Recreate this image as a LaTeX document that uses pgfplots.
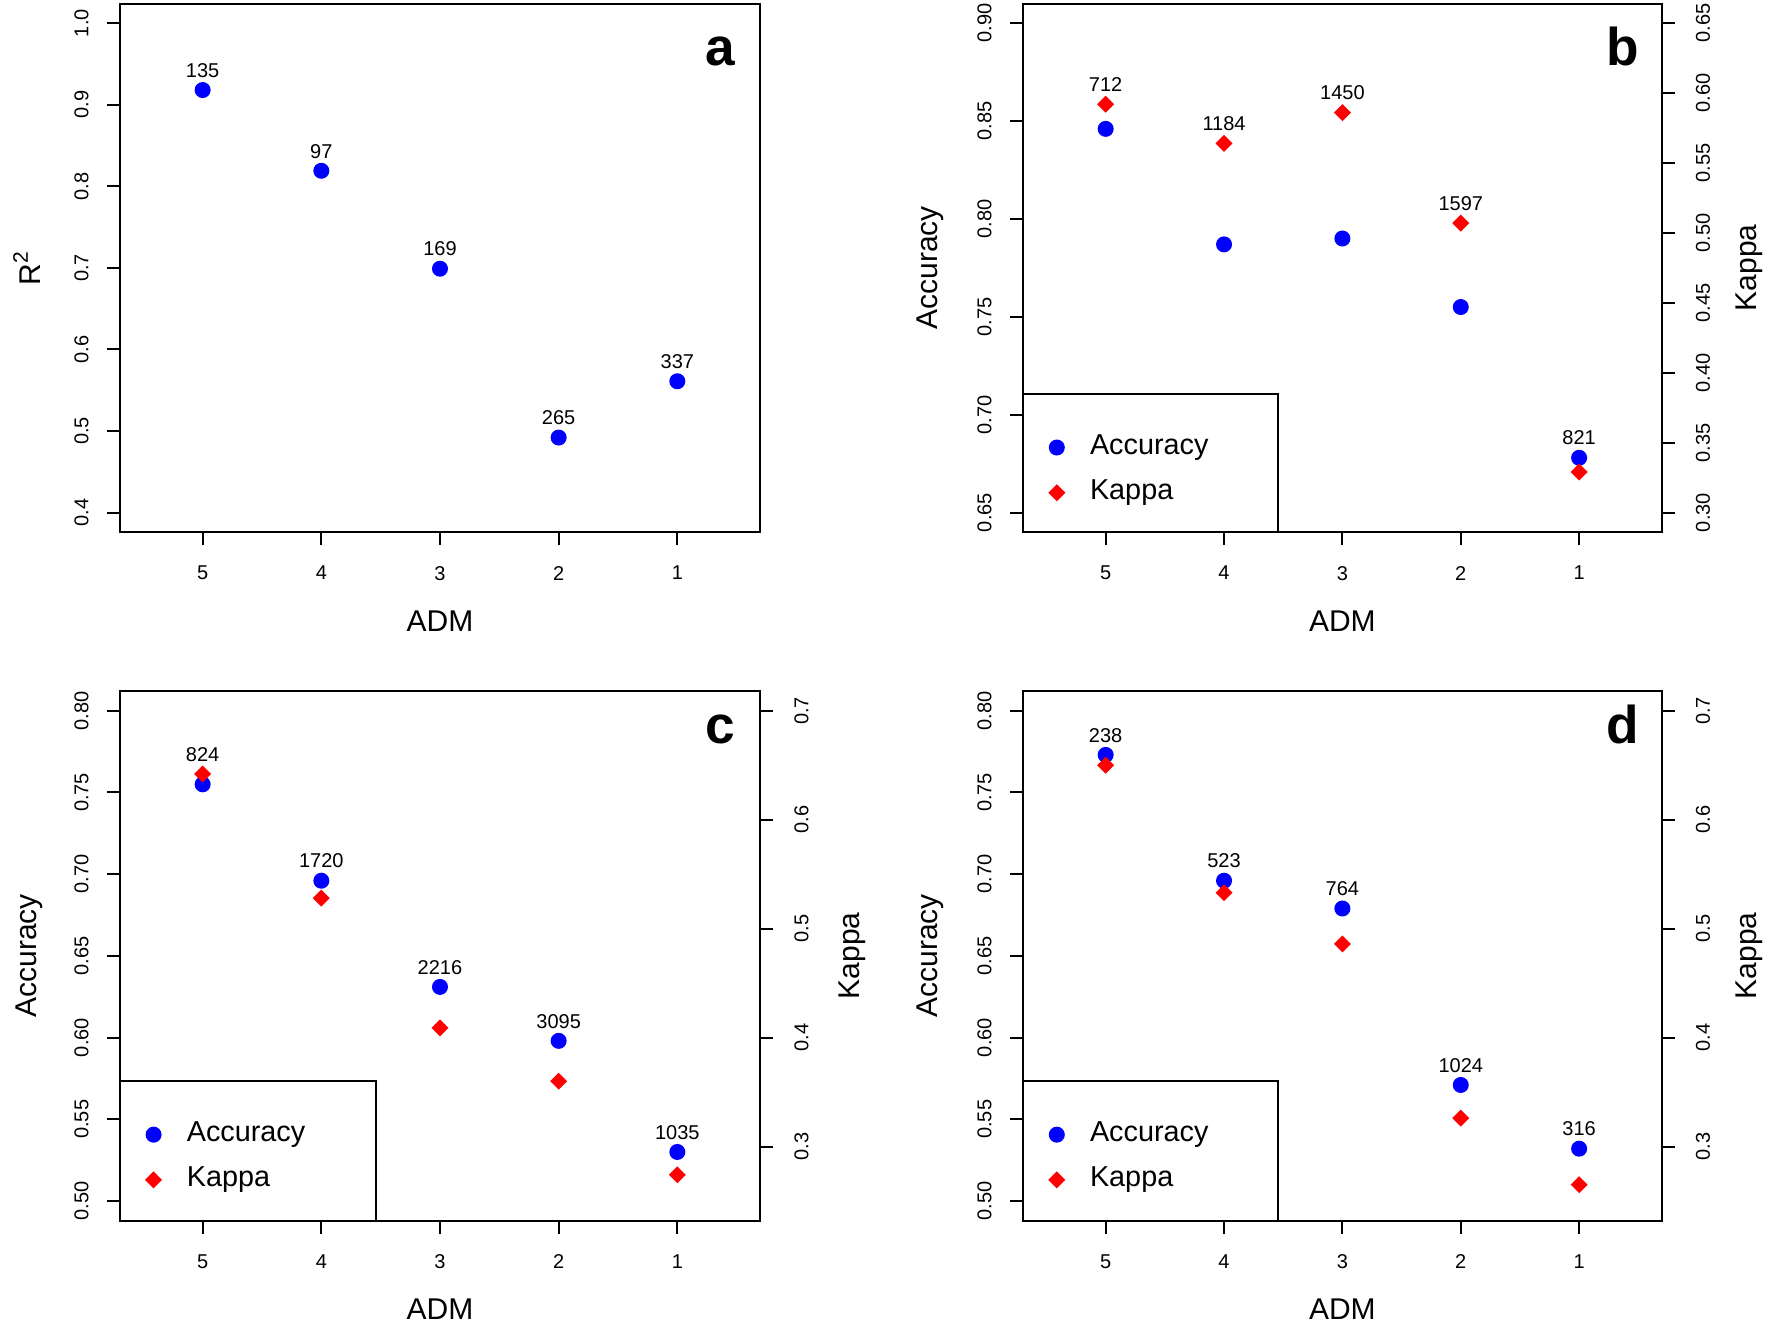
\documentclass[border=0pt]{standalone}
\usepackage{fontspec}
\setmainfont{Liberation Sans}
\usepackage{pgfplots}
\pgfplotsset{compat=1.18}
\newcommand\tickfont{\fontsize{5}{6}\selectfont}
\newcommand\labfont{\fontsize{7.5}{9}\selectfont}
\newcommand\legfont{\fontsize{7.2}{8.5}\selectfont}
\newcommand\panelfont{\bfseries\fontsize{13.3}{14}\selectfont}

\pgfplotsset{
  base/.style={scale only axis, xmin=0.3, xmax=5.7, x dir=reverse,
    tick align=outside, major tick length=3.25pt,
    every tick/.style={black, line width=0.5pt},
    axis line style={line width=0.5pt},
    /pgf/number format/assume math mode=true,
    tick label style={font=\tickfont}, label style={font=\labfont}},
  leftax/.style={base, xtick={1,2,3,4,5}, xtick pos=bottom, ytick pos=left,
    xlabel=ADM, xticklabel style={yshift=-1.7pt},
    yticklabel style={xshift=-1pt, rotate=90, anchor=south, /pgf/number format/.cd, fixed, fixed zerofill, precision=#1},
    xlabel style={at={(axis description cs:0.5,-0.168)}, anchor=center},
    ylabel style={at={(axis description cs:-0.144,0.5)}, anchor=center}},
  rightax/.style={base, axis x line=none, axis y line*=right, ytick pos=right,
    yticklabel style={xshift=1.7pt, rotate=90, anchor=north, /pgf/number format/.cd, fixed, fixed zerofill, precision=#1},
    ylabel=Kappa,
    ylabel style={at={(axis description cs:1.137,0.5)}, anchor=center},
    legend style={at={(rel axis cs:0,0.261)}, anchor=north west, draw=none, fill=none,
      font=\legfont, inner xsep=0pt, inner ysep=7.9pt, row sep=0.85pt,
      /tikz/every odd column/.append style={column sep=-2.4pt}},
    legend cell align=left},
  legimg/.style={legend image code/.code={\path[draw=none, fill=none] (0pt,-1pt) rectangle (17pt,1pt);
    \draw[##1] plot coordinates {(8.3pt,0pt)};}},
  accmark/.style={only marks, mark=*, mark size=1.8pt, blue, legimg},
  kapmark/.style={only marks, mark=square*, mark size=1.3pt, mark options={rotate=45}, red, legimg},
  numlab/.style={draw=none, nodes near coords, point meta=explicit symbolic,
    nodes near coords style={font=\tickfont, anchor=base, yshift=3.2pt, inner sep=0pt, black}},
}

\begin{document}
\begin{tikzpicture}
\useasboundingbox (0,0) rectangle (443pt,330.75pt);

% ---- a ----
\begin{axis}[leftax=1, at={(29.9pt,197.7pt)}, anchor=south west,
  width=160.2pt, height=132.15pt, ymin=0.376, ymax=1.024,
  ytick={0.4,0.5,0.6,0.7,0.8,0.9,1.0}, ylabel={R\textsuperscript{2}},
  ylabel style={at={(axis description cs:-0.145,0.5)}}]
\addplot[accmark] coordinates {(5,0.918) (4,0.819) (3,0.699) (2,0.492) (1,0.561)};
\addplot[numlab] coordinates {(5,0.918)[135] (4,0.819)[97] (3,0.699)[169] (2,0.492)[265] (1,0.561)[337]};
\node[font=\panelfont, anchor=base] at (rel axis cs:0.938,0.883) {a};
\end{axis}

% ---- b ----
\begin{axis}[leftax=2, at={(255.7pt,197.7pt)}, anchor=south west,
  width=159.8pt, height=132.15pt, ymin=0.64, ymax=0.91,
  ytick={0.65,0.70,0.75,0.80,0.85,0.90}, ylabel={Accuracy}]
\addplot[accmark] coordinates {(5,0.846) (4,0.787) (3,0.790) (2,0.755) (1,0.678)};
\addplot[numlab] coordinates {(1,0.678)[821]};
\draw[line width=0.5pt] (rel axis cs:0,0) rectangle (rel axis cs:0.399,0.261);
\node[font=\panelfont, anchor=base] at (rel axis cs:0.939,0.883) {b};
\end{axis}
\begin{axis}[rightax=2, at={(255.7pt,197.7pt)}, anchor=south west,
  width=159.8pt, height=132.15pt, ymin=0.286, ymax=0.664,
  ytick={0.30,0.35,0.40,0.45,0.50,0.55,0.60,0.65}]
\addlegendimage{accmark}
\addplot[kapmark] coordinates {(5,0.592) (4,0.564) (3,0.586) (2,0.507) (1,0.329)};
\addplot[numlab] coordinates {(5,0.592)[712] (4,0.564)[1184] (3,0.586)[1450] (2,0.507)[1597]};
\legend{Accuracy, Kappa}
\end{axis}

% ---- c ----
\begin{axis}[leftax=2, at={(29.9pt,25.6pt)}, anchor=south west,
  width=160.2pt, height=132.35pt, ymin=0.488, ymax=0.812,
  ytick={0.50,0.55,0.60,0.65,0.70,0.75,0.80}, ylabel={Accuracy},
  ylabel style={at={(axis description cs:-0.141,0.5)}}]
\addplot[accmark] coordinates {(5,0.755) (4,0.696) (3,0.631) (2,0.598) (1,0.530)};
\addplot[numlab] coordinates {(4,0.696)[1720] (3,0.631)[2216] (2,0.598)[3095] (1,0.530)[1035]};
\draw[line width=0.5pt] (rel axis cs:0,0) rectangle (rel axis cs:0.400,0.263);
\node[font=\panelfont, anchor=base] at (rel axis cs:0.938,0.902) {c};
\end{axis}
\begin{axis}[rightax=1, at={(29.9pt,25.6pt)}, anchor=south west,
  width=160.2pt, height=132.35pt, ymin=0.232, ymax=0.718,
  ytick={0.3,0.4,0.5,0.6,0.7}, legend style={at={(rel axis cs:0,0.263)}},
  ylabel style={at={(axis description cs:1.143,0.5)}}]
\addlegendimage{accmark}
\addplot[kapmark] coordinates {(5,0.642) (4,0.528) (3,0.409) (2,0.360) (1,0.274)};
\addplot[numlab] coordinates {(5,0.642)[824]};
\legend{Accuracy, Kappa}
\end{axis}

% ---- d ----
\begin{axis}[leftax=2, at={(255.7pt,25.6pt)}, anchor=south west,
  width=159.8pt, height=132.35pt, ymin=0.488, ymax=0.812,
  ytick={0.50,0.55,0.60,0.65,0.70,0.75,0.80}, ylabel={Accuracy}]
\addplot[accmark] coordinates {(5,0.773) (4,0.696) (3,0.679) (2,0.571) (1,0.532)};
\addplot[numlab] coordinates {(5,0.773)[238] (4,0.696)[523] (3,0.679)[764] (2,0.571)[1024] (1,0.532)[316]};
\draw[line width=0.5pt] (rel axis cs:0,0) rectangle (rel axis cs:0.399,0.263);
\node[font=\panelfont, anchor=base] at (rel axis cs:0.939,0.902) {d};
\end{axis}
\begin{axis}[rightax=1, at={(255.7pt,25.6pt)}, anchor=south west,
  width=159.8pt, height=132.35pt, ymin=0.232, ymax=0.718,
  ytick={0.3,0.4,0.5,0.6,0.7}, legend style={at={(rel axis cs:0,0.263)}}]
\addlegendimage{accmark}
\addplot[kapmark] coordinates {(5,0.650) (4,0.533) (3,0.486) (2,0.326) (1,0.265)};
\legend{Accuracy, Kappa}
\end{axis}
\end{tikzpicture}
\end{document}
